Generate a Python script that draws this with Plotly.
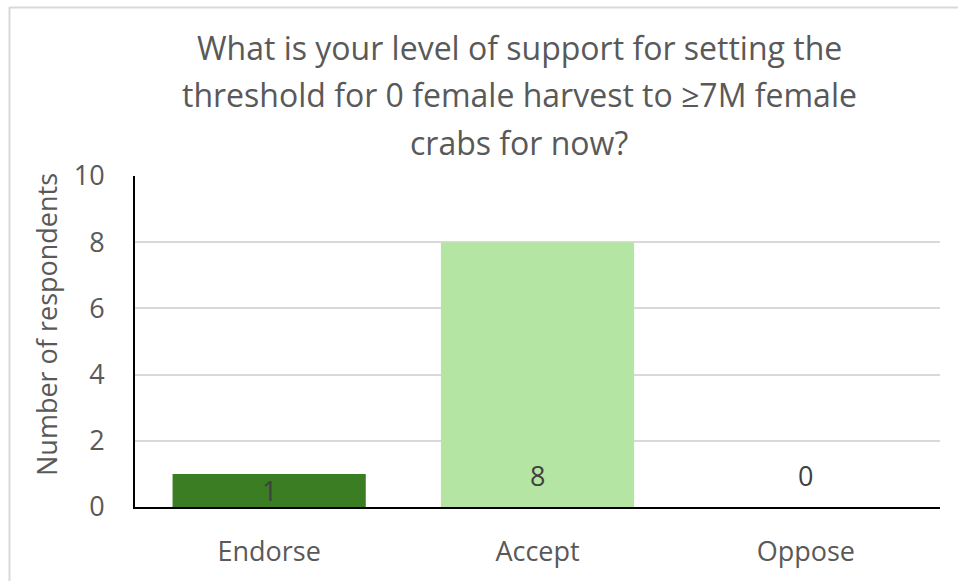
import plotly.graph_objects as go

categories = ["Endorse", "Accept", "Oppose"]
values = [1, 8, 0]
bar_colors = ["#3B7D23", "#B4E5A2", "#B4E5A2"]
title_lines = [
    "What is your level of support for setting the",
    "threshold for 0 female harvest to \u22657M female",
    "crabs for now?",
]
y_ticks = [0, 2, 4, 6, 8, 10]

FONT = "Open Sans"
TXT = "#595959"

fig = go.Figure()
fig.add_trace(go.Bar(
    x=categories, y=values, marker=dict(color=bar_colors, line=dict(width=0)),
    hoverinfo="skip", showlegend=False,
))

L, R, T, B = 135, 18, 176, 74
W, H = 958, 581
pw, ph = W - L - R, H - T - B

def px_x(x):
    return (x - L) / pw

def px_y(y):
    return (H - B - y) / ph

annotations = []
# title lines
for line, yc in zip(title_lines, [47, 94, 142]):
    annotations.append(dict(text=line, xref="paper", yref="paper", x=px_x(519), y=px_y(yc),
                            xanchor="center", yanchor="middle", showarrow=False,
                            font=dict(family=FONT, size=32, color=TXT)))
# y axis title
annotations.append(dict(text="Number of respondents", xref="paper", yref="paper",
                        x=px_x(46), y=px_y(325), textangle=-90, xanchor="center", yanchor="middle",
                        showarrow=False, font=dict(family=FONT, size=27, color=TXT)))
# data labels
unit_px = ph / 10
for c, v in zip(categories, values):
    if 0 < v * unit_px < 40:
        annotations.append(dict(text=str(v), x=c, y=v / 2, xref="x", yref="y", showarrow=False,
                                xanchor="center", yanchor="middle",
                                font=dict(family=FONT, size=27, color="#404040")))
    else:
        annotations.append(dict(text=str(v), x=c, y=0, xref="x", yref="y", showarrow=False,
                                xanchor="center", yanchor="middle", yshift=32,
                                font=dict(family=FONT, size=27, color="#404040")))

shapes = [
    dict(type="line", xref="paper", yref="paper", x0=px_x(9.5), x1=px_x(958), y0=px_y(7.5), y1=px_y(7.5),
         line=dict(color="#D9D9D9", width=2)),
    dict(type="line", xref="paper", yref="paper", x0=px_x(9.5), x1=px_x(9.5), y0=px_y(7), y1=px_y(581),
         line=dict(color="#D9D9D9", width=2)),
]

fig.update_layout(
    width=W, height=H,
    margin=dict(l=L, r=R, t=T, b=B, pad=0),
    paper_bgcolor="white", plot_bgcolor="white",
    bargap=0.28,
    annotations=annotations,
    shapes=shapes,
    font=dict(family=FONT, color=TXT),
    xaxis=dict(showgrid=False, showline=True, linecolor="black", linewidth=2,
               tickfont=dict(family=FONT, size=27, color=TXT), ticks="", ticklabelstandoff=20,
               fixedrange=True),
    yaxis=dict(range=[0, 10], tickvals=y_ticks, showgrid=True, gridcolor="#D9D9D9", gridwidth=2,
               showline=True, linecolor="black", linewidth=2, zeroline=False,
               tickfont=dict(family=FONT, size=27, color=TXT), ticks="", ticklabelstandoff=23,
               fixedrange=True),
)

fig.write_html("out.html", config={"displayModeBar": False},
               post_script="document.body.style.margin='0';document.body.style.overflow='hidden';")
